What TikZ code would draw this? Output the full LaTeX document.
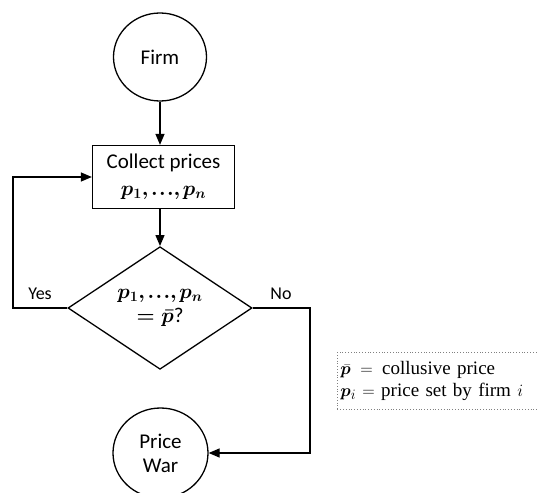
\documentclass[tikz,border=0pt]{standalone}
\usepackage{bm}
\usepackage{fontspec}
\setmainfont{Carlito}
\newfontfamily\legendfont{Liberation Serif}
\usetikzlibrary{shapes.geometric,arrows.meta}
\newcommand{\plist}{p_1{,}\mkern2mu{.}\mkern1mu{.}\mkern1mu{.}{,}\mkern2mu p_n}
\begin{document}
\begin{tikzpicture}[x=1pt,y=-1pt,
  mainfont/.style={font=\fontsize{21}{27}\selectfont},
  line/.style={line width=1.3pt},
  arr/.style={line, -{Triangle[length=11pt,width=9pt]}},
  termnode/.style={ellipse, draw, line width=1.3pt, inner sep=0pt, align=center, mainfont},
  procbox/.style={rectangle, draw, line width=1.3pt, minimum width=142pt, minimum height=63pt, inner sep=0pt, align=center, mainfont},
  decbox/.style={diamond, draw, line width=1.3pt, minimum width=184pt, minimum height=116pt, inner sep=0pt, align=center, font=\fontsize{21}{24}\selectfont},
  lbl/.style={font=\fontsize{18}{22}\selectfont, inner sep=0pt},
  legendbox/.style={rectangle, draw=gray, dotted, line width=0.8pt, text width=212pt, inner xsep=3pt, inner ysep=0pt, minimum height=57pt, align=left, font=\legendfont\fontsize{19}{22}\selectfont}
]
\useasboundingbox (0,0) rectangle (537,492);
\clip (0,0) rectangle (537,492);

\node[termnode, minimum width=93pt, minimum height=88pt] (firm) at (160,57) {Firm};
\node[procbox] (collect) at (163.5,177) {Collect prices\\ {\boldmath$\plist$}};
\node[decbox] (decision) at (160,308) {{\boldmath$\plist$}\\ {\boldmath$=\bar{p}$}?};
\node[termnode, minimum width=95pt, minimum height=90pt] (pricewar) at (160.5,453) {Price\\[-3pt] War};
\node[legendbox, anchor=north west] (legend) at (337,352) {$\bar{\bm p}$ \,$=$\, collusive price\\ $\bm p_i$ $=$ price set by firm $i$};

\coordinate (yescorner) at (13,308);
\coordinate (nocorner) at (310,308);

\draw[arr] (firm.south) -- (firm.south |- collect.north);
\draw[arr] (firm.south |- collect.south) -- (decision.north);
\draw[arr] (decision.west) -- (yescorner) |- (collect.west);
\draw[arr] (decision.east) -- (nocorner) |- (pricewar.east);

\node[lbl] (yes) at (40,294) {Yes};
\node[lbl] (no) at (281,294) {No};
\end{tikzpicture}
\end{document}
